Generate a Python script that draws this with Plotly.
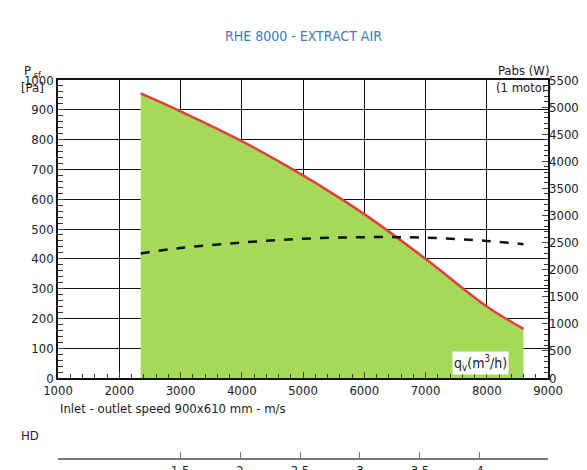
import plotly.graph_objects as go

flow = [2350, 3000, 4000, 5000, 6000, 7000, 8000, 8600]
pressure = [955, 895, 795, 680, 550, 400, 240, 165]
flow_p = [2350, 3000, 4000, 5000, 6000, 7000, 8000, 8600]
power = [2300, 2400, 2500, 2570, 2600, 2590, 2530, 2470]
hd_ticks = [1.5, 2, 2.5, 3, 3.5, 4]

F = "DejaVu Sans Condensed, Roboto, sans-serif"
fig = go.Figure()
fig.add_trace(go.Scatter(x=[flow[0]] + flow + [flow[-1]], y=[0] + pressure + [0],
                         fill="toself", fillcolor="#a6d95a", line=dict(width=0),
                         mode="lines", hoverinfo="skip"))
fig.add_trace(go.Scatter(x=flow, y=pressure, mode="lines", line=dict(color="#e0403a", width=2.5,
                         shape="spline")))
fig.add_trace(go.Scatter(x=flow_p, y=power, mode="lines", yaxis="y2",
                         line=dict(color="#111", width=2.5, dash="dash", shape="spline")))
fig.add_trace(go.Scatter(x=[1, 2], y=[0, 0], xaxis="x3", yaxis="y3", mode="markers",
                         marker=dict(opacity=0), hoverinfo="skip"))

fig.update_layout(
    width=587, height=470, showlegend=False, plot_bgcolor="white", paper_bgcolor="white",
    margin=dict(l=50, r=47, t=72, b=20, autoexpand=False), font=dict(family=F, size=13, color="#222"),
    xaxis=dict(range=[1000, 9000], dtick=1000, showgrid=True, gridcolor="#111", gridwidth=1.3,
               showline=True, linecolor="#111", linewidth=1.5, mirror=True, ticks="inside",
               ticklen=6, minor=dict(dtick=200, ticks="inside", ticklen=4, tickcolor="#333"),
               zeroline=False, anchor="y"),
    yaxis=dict(range=[0, 1000], dtick=100, domain=[0.2116, 1], showgrid=True, gridcolor="#111",
               gridwidth=1.3, showline=True, linecolor="#111", linewidth=1.5, mirror=True,
               ticks="inside", ticklen=6, zeroline=False, anchor="x",
               minor=dict(dtick=20, ticks="inside", ticklen=5, tickcolor="#333")),
    yaxis2=dict(range=[0, 5500], dtick=500, overlaying="y", side="right", showgrid=False,
                ticks="inside", ticklen=6, zeroline=False, anchor="x",
                minor=dict(dtick=100, ticks="inside", ticklen=4, tickcolor="#333")),
    xaxis3=dict(range=[0.483, 4.567], tickvals=hd_ticks, ticktext=[str(v) for v in hd_ticks],
                anchor="y3", domain=[0, 1], showline=True, linecolor="#777",
                linewidth=1.5, ticks="inside", ticklen=6, tickcolor="#777", showgrid=False,
                zeroline=False),
    yaxis3=dict(domain=[0.0, 0.02], anchor="x3", visible=False, range=[0, 1]),
)
ann = [
    dict(x=0.5, y=1.143, text="RHE 8000 - EXTRACT AIR", font=dict(color="#3a7fb5", size=14)),
    dict(x=-0.08, y=1.05, text="P<sub> sf</sub><br>[Pa]", align="center", xanchor="left", font=dict(size=13)),
    dict(x=1.01, y=1.05, text="Pabs (W)<br>(1 motor)", align="center", xanchor="right", font=dict(size=13)),
    dict(x=0.0, y=0.106, text="Inlet - outlet speed 900x610 mm - m/s", xanchor="left", font=dict(size=13)),
    dict(x=-0.08, y=0.034, text="HD", xanchor="left", font=dict(size=13)),
]
for a in ann:
    a.update(xref="paper", yref="paper", showarrow=False)
    fig.add_annotation(**a)
fig.add_annotation(x=7900, y=50, xref="x", yref="y", text="q<sub>v</sub>(m<sup>3</sup>/h)",
                   showarrow=False, bgcolor="white", font=dict(size=14))
fig.write_html("out.html")
